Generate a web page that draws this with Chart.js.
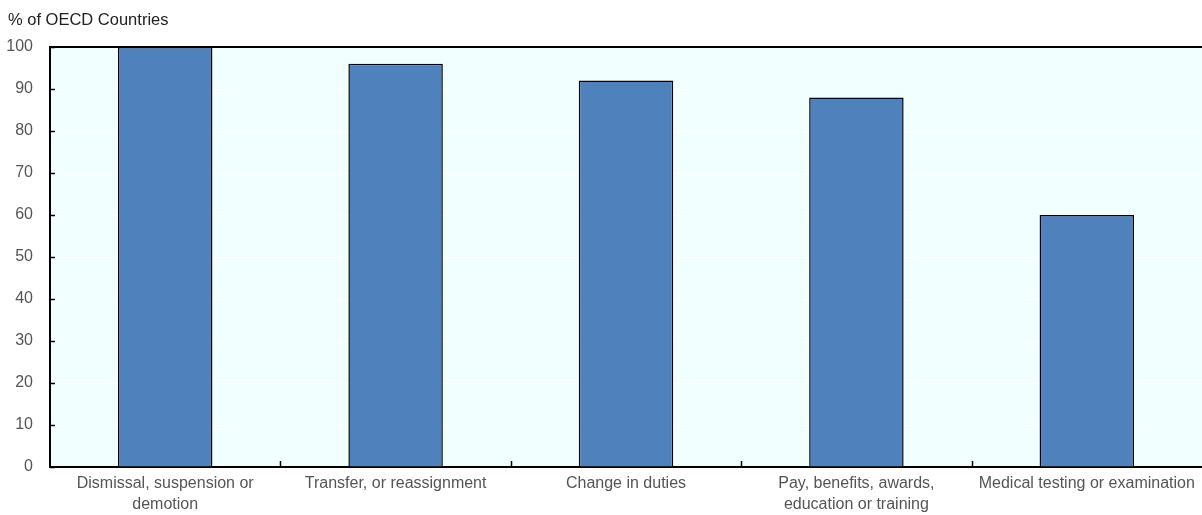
<!DOCTYPE html>
<html>
<head>
<meta charset="utf-8">
<script src="https://cdn.jsdelivr.net/npm/chart.js@4.4.1/dist/chart.umd.min.js"></script>
<style>
  html, body { margin: 0; padding: 0; background: #fff; }
  #wrap { width: 1202px; height: 515px; position: relative; }
</style>
</head>
<body>
<div id="wrap"><canvas id="chart" width="1202" height="515"></canvas></div>
<script>
// categories and values (% of OECD countries)
var categories = [
  ['Dismissal, suspension or', 'demotion'],
  'Transfer, or reassignment',
  'Change in duties',
  ['Pay, benefits, awards,', 'education or training'],
  'Medical testing or examination'
];
var shares = [100, 96, 92, 88, 60];
var yTicks = [0, 10, 20, 30, 40, 50, 60, 70, 80, 90, 100];
var unitLabel = '% of OECD Countries';

var fontFamily = '"Liberation Sans", Arial, sans-serif';

// plot background, unit label and the small inward tick marks
var decor = {
  id: 'decor',
  beforeDraw: function (chart) {
    var c = chart.ctx, a = chart.chartArea;
    c.save();
    c.fillStyle = '#F2FFFF';
    c.fillRect(a.left, a.top, a.right - a.left, a.bottom - a.top);
    c.restore();
  },
  afterDraw: function (chart) {
    var c = chart.ctx, a = chart.chartArea;
    var x = chart.scales.x, y = chart.scales.y;
    c.save();
    c.strokeStyle = '#000';
    c.lineWidth = 1.5;
    c.beginPath();
    yTicks.forEach(function (v) {
      var py = Math.round(y.getPixelForValue(v)) + 0.5;
      c.moveTo(a.left, py);
      c.lineTo(a.left + 5, py);
    });
    for (var i = 1; i < categories.length; i++) {
      var px = Math.round((x.getPixelForValue(i - 1) + x.getPixelForValue(i)) / 2) + 0.5;
      c.moveTo(px, a.bottom);
      c.lineTo(px, a.bottom - 6);
    }
    c.stroke();
    // top edge of the frame
    c.lineWidth = 2;
    c.beginPath();
    c.moveTo(a.left, a.top);
    c.lineTo(a.right, a.top);
    c.stroke();
    // unit label above the y axis
    c.fillStyle = '#222';
    c.font = '16.5px ' + fontFamily;
    c.textAlign = 'left';
    c.textBaseline = 'alphabetic';
    c.fillText(unitLabel, 8, 25);
    c.restore();
  }
};

var ctx = document.getElementById('chart').getContext('2d');
var chart = new Chart(ctx, {
  type: 'bar',
  data: {
    labels: categories,
    datasets: [{
      data: shares,
      backgroundColor: '#4F81BD',
      borderColor: '#000',
      borderWidth: 1.5,
      categoryPercentage: 1,
      barPercentage: 0.41
    }]
  },
  options: {
    responsive: false,
    animation: false,
    layout: { padding: { top: 47, right: 0, left: 0, bottom: 0 } },
    plugins: {
      legend: { display: false },
      tooltip: { enabled: false }
    },
    scales: {
      x: {
        grid: { display: false, drawTicks: false },
        border: { color: '#000', width: 2 },
        ticks: {
          color: '#555',
          font: { family: fontFamily, size: 16, lineHeight: 1.3 },
          padding: 6,
          maxRotation: 0,
          autoSkip: false
        },
        afterFit: function (s) { s.height = 48; }
      },
      y: {
        min: 0,
        max: 100,
        grid: { color: '#FFFFFF', lineWidth: 1, drawTicks: false },
        border: { color: '#000', width: 2 },
        ticks: {
          stepSize: 10,
          color: '#555',
          font: { family: fontFamily, size: 16 },
          padding: 17
        },
        afterFit: function (s) { s.width = 50; }
      }
    }
  },
  plugins: [decor]
});
</script>
</body>
</html>
